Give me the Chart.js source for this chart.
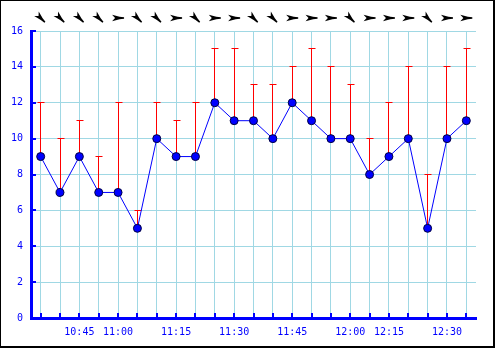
<!DOCTYPE html>
<html>
<head>
<meta charset="utf-8">
<script src="https://cdn.jsdelivr.net/npm/chart.js@4/dist/chart.umd.min.js"></script>
<style>
  html, body { margin: 0; padding: 0; background: #fff; }
  #wrap { width: 495px; height: 348px; }
</style>
</head>
<body>
<div id="wrap"><canvas id="c" width="495" height="348"></canvas></div>
<script>
// ---- data ----
const categories = ['', '', '10:45', '', '11:00', '', '', '11:15', '', '', '11:30', '', '', '11:45', '', '', '12:00', '', '12:15', '', '', '12:30', ''];
const windSpeed = [9, 7, 9, 7, 7, 5, 10, 9, 9, 12, 11, 11, 10, 12, 11, 10, 10, 8, 9, 10, 5, 10, 11];
const windGust  = [12, 10, 11, 9, 12, 6, 12, 11, 12, 15, 15, 13, 13, 14, 15, 14, 13, 10, 12, 14, 8, 14, 15];
const windFromDeg = [315, 315, 315, 315, 270, 315, 315, 270, 315, 270, 270, 315, 315, 270, 270, 270, 315, 270, 270, 270, 315, 270, 270];
const yMin = 0, yMax = 16, yStep = 2;

const BLUE = '#0000ff';
const GRID = '#a0d8e4';
const FONT = { family: "'DejaVu Sans Mono', monospace", size: 10 };

function align(p) { return Math.round(p - 0.5) + 0.5; }

const gustPlugin = {
  id: 'gusts',
  beforeDatasetsDraw(chart) {
    const ctx = chart.ctx, x = chart.scales.x, y = chart.scales.y;
    ctx.save();
    ctx.strokeStyle = '#ff0000';
    ctx.lineWidth = 1;
    windGust.forEach((g, i) => {
      const px = align(x.getPixelForValue(i));
      const y0 = y.getPixelForValue(windSpeed[i]);
      const y1 = align(y.getPixelForValue(g));
      ctx.beginPath();
      ctx.moveTo(px, y0);
      ctx.lineTo(px, y1);
      ctx.moveTo(px - 3, y1);
      ctx.lineTo(px + 4, y1);
      ctx.stroke();
    });
    ctx.restore();
  }
};

const decorPlugin = {
  id: 'decor',
  afterDraw(chart) {
    const ctx = chart.ctx, x = chart.scales.x, y = chart.scales.y;
    const a = chart.chartArea;
    ctx.save();
    // inner tick marks
    ctx.strokeStyle = BLUE;
    ctx.lineWidth = 2;
    categories.forEach((c, i) => {
      const px = Math.round(x.getPixelForValue(i));
      ctx.beginPath();
      ctx.moveTo(px, a.bottom);
      ctx.lineTo(px, a.bottom - 5);
      ctx.stroke();
    });
    for (let v = yMin; v <= yMax; v += yStep) {
      const py = Math.round(y.getPixelForValue(v));
      ctx.beginPath();
      ctx.moveTo(a.left, py);
      ctx.lineTo(a.left + 5, py);
      ctx.stroke();
    }
    // wind direction darts
    ctx.fillStyle = '#000';
    windFromDeg.forEach((d, i) => {
      const px = x.getPixelForValue(i);
      ctx.save();
      ctx.translate(px, 18);
      ctx.rotate((d - 270) * Math.PI / 180);
      ctx.beginPath();
      ctx.moveTo(-6, -3.2);
      ctx.lineTo(-3, 0);
      ctx.lineTo(-6, 3.2);
      ctx.lineTo(1.5, 1.3);
      ctx.lineTo(6, 0.7);
      ctx.lineTo(6, -0.7);
      ctx.lineTo(1.5, -1.3);
      ctx.closePath();
      ctx.fill();
      ctx.restore();
    });
    // outer frame
    ctx.fillStyle = '#000';
    const W = chart.width, H = chart.height;
    ctx.fillRect(0, 0, W, 1);
    ctx.fillRect(0, 0, 1, H);
    ctx.fillRect(W - 2, 0, 2, H);
    ctx.fillRect(0, H - 2, W, 2);
    ctx.restore();
  }
};

new Chart(document.getElementById('c'), {
  type: 'line',
  data: {
    labels: categories,
    datasets: [{
      data: windSpeed,
      borderColor: BLUE,
      borderWidth: 1,
      tension: 0,
      pointRadius: 4,
      pointBackgroundColor: BLUE,
      pointBorderColor: '#000040',
      pointBorderWidth: 1
    }]
  },
  options: {
    responsive: false,
    animation: false,
    devicePixelRatio: 1,
    layout: { padding: { left: 0, right: 19, top: 31, bottom: 0 } },
    plugins: { legend: { display: false }, tooltip: { enabled: false } },
    scales: {
      x: {
        offset: true,
        grid: { offset: false, color: GRID, lineWidth: 1, drawTicks: false },
        border: { display: true, color: BLUE, width: 3 },
        ticks: { color: BLUE, font: FONT, autoSkip: false, maxRotation: 0, padding: 8 },
        afterFit(s) { s.height = 30; }
      },
      y: {
        min: yMin, max: yMax,
        grid: { color: GRID, lineWidth: 1, drawTicks: false },
        border: { display: true, color: BLUE, width: 3 },
        ticks: { color: BLUE, font: FONT, stepSize: yStep, padding: 8 },
        afterFit(s) { s.width = 31; }
      }
    }
  },
  plugins: [gustPlugin, decorPlugin]
});
</script>
</body>
</html>
